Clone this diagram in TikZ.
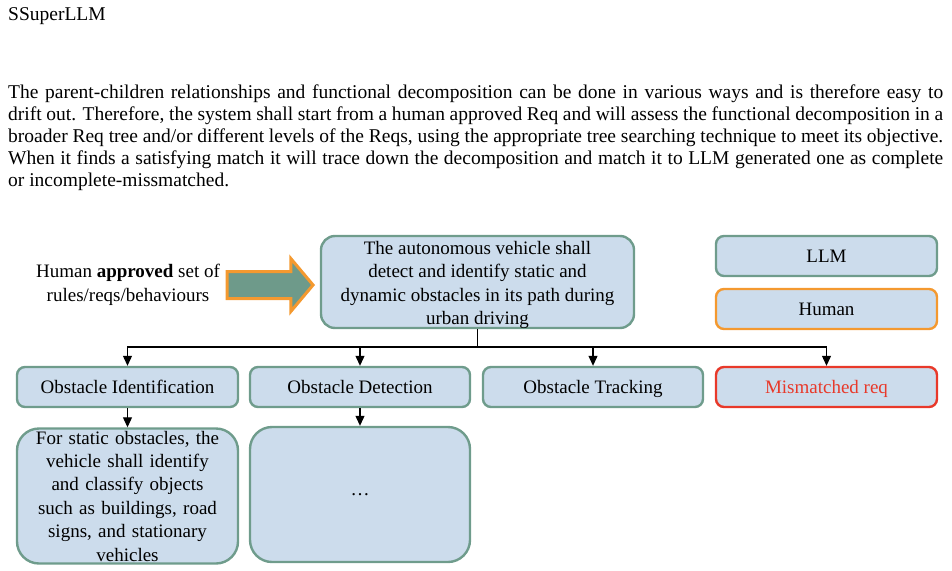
\documentclass[tikz,border=0pt]{standalone}
\usepackage{fontspec}
\setmainfont{Liberation Serif}
\usetikzlibrary{arrows.meta,shapes.arrows}
\definecolor{boxfill}{HTML}{CCDCEC}
\definecolor{teal}{HTML}{6F9C8C}
\definecolor{orng}{HTML}{F4992F}
\definecolor{redb}{HTML}{E8392A}
\definecolor{arrowfill}{HTML}{6E9A8A}
\tikzset{
  base/.style={fill=boxfill, line width=2.4pt, inner sep=0pt, font=\fontsize{19}{23.4}\selectfont, align=center},
  tealbox/.style={base, draw=teal},
  smallbox/.style={rounded corners=8pt, minimum width=221pt, minimum height=40pt, text height=16pt, text depth=4pt},
  conn/.style={line width=1.1pt, -{Triangle[length=10pt,width=9pt]}},
}
\begin{document}
\begin{tikzpicture}[x=1pt,y=-1pt]
\useasboundingbox (0,0) rectangle (952,570);
% header
\node[anchor=base west, inner sep=0pt, font=\fontsize{19.5}{22}\selectfont] (title) at (8,20) {SSuperLLM};
\node[anchor=north west, inner sep=0pt, text width=935pt, align=justify, font=\fontsize{19.5}{22}\selectfont] (para) at (8,85)
{The parent-children relationships and functional decomposition can be done in various ways and is therefore easy to\linebreak
drift out. Therefore, the system shall start from a human approved Req and will assess the functional decomposition in a\linebreak
broader Req tree and/or different levels of the Reqs, using the appropriate tree searching technique to meet its objective.\linebreak
When it finds a satisfying match it will trace down the decomposition and match it to LLM generated one as complete\linebreak
or incomplete-missmatched.};
% main requirement
\node[tealbox, rounded corners=14pt, minimum width=313pt, minimum height=92pt,
  label={[font=\fontsize{19}{23.4}\selectfont, align=center, inner sep=0pt, yshift=-3pt]center:The autonomous vehicle shall\\detect and identify static and\\dynamic obstacles in its path during\\urban driving}] (main) at (477.5,282) {};
% human approved text
\node[font=\fontsize{19}{24}\selectfont, align=center, inner sep=0pt] (hum) at (128,285) {Human \textbf{approved} set of\\rules/reqs/behaviours};
% block arrow
\node[single arrow, draw=orng, fill=arrowfill, line width=3pt, inner xsep=0pt, inner ysep=12pt, minimum height=86pt, single arrow head extend=13pt, single arrow tip angle=100, anchor=east] (barrow) at (315,285) {};
% legend
\node[tealbox, smallbox] (llm) at (826.5,256) {LLM};
\node[base, draw=orng, smallbox] (human) at (826.5,309) {Human};
% level 2
\node[tealbox, smallbox] (ident) at (127.5,387) {Obstacle Identification};
\node[tealbox, smallbox, minimum width=220pt] (detect) at (360,387) {Obstacle Detection};
\node[tealbox, smallbox, minimum width=220pt] (track) at (593,387) {Obstacle Tracking};
\node[base, draw=redb, text=redb, smallbox] (mis) at (826.5,387) {Mismatched req};
% level 3
\node[tealbox, rounded corners=22pt, minimum width=221pt, minimum height=135pt, text width=210pt] (static) at (127.5,496)
{For static obstacles, the\\vehicle shall identify\\and classify objects\\such as buildings, road\\signs, and stationary\\vehicles};
\node[tealbox, rounded corners=22pt, minimum width=220pt, minimum height=135pt] (dots) at (360,494.5) {\dots};
% connectors
\coordinate (junc) at (main.south |- 0,347);
\draw[line width=1.1pt] (main.south) -- (junc);
\draw[conn] (junc) -| (ident.north);
\draw[conn] (junc) -| (detect.north);
\draw[conn] (junc) -| (track.north);
\draw[conn] (junc) -| (mis.north);
\draw[conn] (ident.south) -- (static.north);
\draw[conn] (detect.south) -- (dots.north);
\end{tikzpicture}
\end{document}
